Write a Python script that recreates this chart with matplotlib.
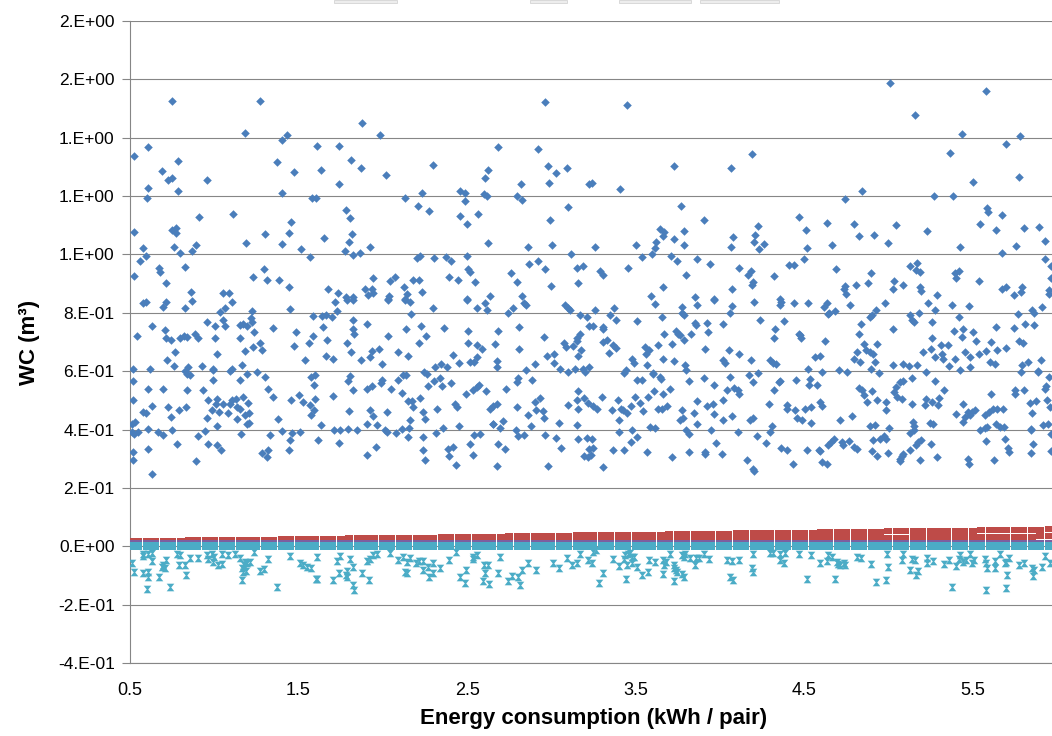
import matplotlib
matplotlib.use("Agg")
import matplotlib.pyplot as plt
from matplotlib.path import Path
from matplotlib.patches import Rectangle

plt.rcParams['font.family'] = ['Liberation Sans', 'DejaVu Sans']

# ---------------- data ----------------
# total water consumption per scenario, (energy kWh/pair, WC m3)
wc_total_a = [(0.524,1.337),(0.524,1.078),(0.524,0.926),(0.609,1.369),(0.609,1.229),(0.599,1.194),(0.579,1.022),(0.559,0.979),(0.595,0.994),(0.688,1.286),(0.727,1.255),(0.747,1.263),(0.747,1.526),(0.787,1.320),(0.787,1.219),(0.747,1.083),(0.773,1.091),(0.771,1.074),(0.761,1.025),(0.797,1.006),(0.674,0.952),(0.678,0.941),(0.714,0.901),(0.826,0.957),(0.955,1.255),(0.909,1.128),(0.890,1.034),(0.866,1.011),(0.862,0.872),(1.054,0.869),(1.090,0.869),(1.182,1.415),(1.272,1.526),(1.109,1.137),(1.188,1.040),(1.301,1.070),(1.228,0.923),(1.297,0.949),(1.315,0.911),(1.370,1.318),(1.384,0.913),(1.400,1.392),(1.430,1.411),(1.473,1.282),(1.400,1.211),(1.453,1.111),(1.446,1.072),(1.400,1.035),(1.515,1.019),(1.568,0.990),(1.578,1.193),(1.602,1.193),(1.612,1.371),(1.632,1.291),(1.653,1.055),(1.444,0.889),(1.677,0.883),(1.742,1.371),(1.740,1.240),(1.810,1.323),(1.871,1.296),(1.875,1.451),(1.780,1.154),(1.806,1.125),(1.816,1.071),(1.802,1.042),(1.776,1.011),(1.825,0.998),(1.865,1.006),(1.924,1.026),(1.736,0.869),(1.782,0.853),(1.821,0.854),(1.895,0.883),(1.944,0.920),(1.934,0.883),(1.944,0.869),(1.914,0.861),(1.984,1.411),(2.017,1.272),(2.043,0.909),(2.073,0.923),(2.039,0.857),(2.033,0.848),(2.126,0.889),(2.142,0.863),(2.132,0.848),(2.132,1.193),(2.235,1.211),(2.211,1.166),(2.274,1.149),(2.221,0.994),(2.205,0.987),(2.181,0.913),(2.215,0.911),(2.235,0.872),(2.298,1.306),(2.306,0.987),(2.373,0.992),(2.405,0.979),(2.395,0.923),(2.449,0.911),(2.458,1.217),(2.488,1.209),(2.488,1.183),(2.458,1.131),(2.498,1.103),(2.502,0.994),(2.508,0.951),(2.518,0.939),(2.544,0.905),(2.498,0.848),(2.567,1.137),(2.603,1.206),(2.617,1.202),(2.607,1.263),(2.627,1.291),(2.686,1.369),(2.623,1.038),(2.633,0.857),(2.795,1.200),(2.824,1.185),(2.820,1.243),(2.860,1.025),(2.868,0.969),(2.761,0.935),(2.795,0.905),(2.824,0.857),(2.923,1.360),(2.963,1.523),(2.979,1.303),(2.987,1.246),(3.028,1.278),(3.091,1.296),(2.989,1.117),(3.002,1.034),(3.097,1.162),(3.117,1.002),(2.919,0.977),(2.963,0.951),(2.998,0.892),(3.157,0.903),(3.151,0.953),(3.190,0.962),(3.226,1.243)]

wc_total_b = [(3.240,1.246),(3.448,1.512),(3.408,1.225),(3.725,1.302),(3.768,1.167),(3.260,1.026),(3.501,1.032),(3.537,0.992),(3.596,1.000),(3.616,1.023),(3.620,1.042),(3.645,1.086),(3.669,1.077),(3.661,1.063),(3.730,1.054),(3.711,0.994),(3.744,0.979),(3.784,1.080),(3.788,1.034),(3.798,0.929),(3.289,0.943),(3.305,0.928),(3.452,0.953),(3.665,0.889),(3.592,0.857),(3.863,0.985),(3.907,1.117),(3.942,0.969),(4.067,1.296),(4.189,1.343),(4.075,1.059),(4.065,1.026),(4.071,0.880),(4.112,0.955),(4.164,0.931),(4.183,0.943),(4.195,0.905),(4.193,0.894),(4.211,1.065),(4.205,1.043),(4.225,1.097),(4.229,1.019),(4.263,1.035),(3.853,0.855),(3.966,0.848),(4.320,0.926),(4.358,0.848),(4.409,0.963),(4.437,0.963),(4.472,1.130),(4.508,1.085),(4.496,0.985),(4.518,1.022),(4.637,1.109),(4.664,1.033),(4.686,0.949),(4.741,1.191),(4.842,1.219),(4.797,1.103),(4.824,1.062),(4.915,1.065),(4.896,0.937),(4.878,0.903),(4.741,0.891),(4.737,0.880),(4.749,0.863),(4.809,0.895),(4.999,1.040),(5.042,1.101),(5.010,1.586),(5.159,1.478),(5.272,1.199),(5.384,1.199),(5.363,1.349),(5.436,1.413),(5.499,1.250),(5.580,1.560),(5.699,1.377),(5.782,1.407),(5.772,1.264),(5.582,1.159),(5.588,1.146),(5.673,1.135),(5.545,1.106),(5.636,1.085),(5.226,1.079),(5.426,1.024),(5.675,1.006),(5.758,1.030),(5.802,1.089),(5.891,1.094),(5.926,1.046),(5.926,0.985),(5.966,0.962),(5.966,0.920),(5.125,0.960),(5.169,0.971),(5.165,0.946),(5.185,0.941),(5.026,0.882),(5.032,0.909),(5.084,0.895),(5.185,0.890),(5.194,0.874),(5.289,0.861),(5.392,0.937),(5.416,0.943),(5.400,0.920),(5.539,0.909),(5.673,0.883),(5.697,0.887),(5.744,0.861),(5.792,0.888),(5.788,0.873),(5.954,0.878),(5.950,0.863)]

wc_total_c = [(0.579,0.832),(0.595,0.838),(0.698,0.820),(0.714,0.838),(0.826,0.818),(0.866,0.841),(1.034,0.803),(1.064,0.815),(1.103,0.838),(1.222,0.806),(1.450,0.813),(1.717,0.838),(1.730,0.806),(1.786,0.843),(1.825,0.843),(2.033,0.843),(2.132,0.843),(2.162,0.838),(2.296,0.815),(2.498,0.843),(2.557,0.818),(2.607,0.832),(2.617,0.809),(2.745,0.798),(2.775,0.818),(2.840,0.832),(2.848,0.826),(3.081,0.826),(3.111,0.809),(3.170,0.792),(3.210,0.786),
(0.544,0.720),(0.633,0.755),(0.708,0.740),(0.714,0.715),(0.743,0.706),(0.797,0.712),(0.822,0.720),(0.836,0.718),(0.886,0.729),(0.905,0.715),(0.955,0.769),(1.004,0.754),(1.004,0.712),(1.054,0.775),(1.064,0.754),(1.153,0.758),(1.153,0.712),(1.173,0.763),(1.216,0.781),(1.222,0.769),(1.192,0.754),(1.236,0.735),(1.347,0.747),(1.483,0.735),(1.588,0.790),(1.637,0.790),(1.661,0.792),(1.701,0.784),(1.643,0.750),(1.825,0.775),(1.825,0.743),(1.829,0.729),(1.908,0.761),(2.029,0.720),(2.138,0.743),(2.167,0.795),(2.227,0.755),(2.256,0.721),(2.363,0.748),(2.508,0.737),(2.686,0.737),(2.666,0.692),(2.810,0.750),(2.959,0.718),(3.170,0.729),(3.151,0.712),(3.226,0.754),(3.097,0.818),
(0.767,0.666),(0.718,0.640),(0.763,0.617),(0.619,0.609),(0.826,0.601),(0.846,0.615),(0.836,0.592),(0.856,0.586),(0.925,0.618),(1.018,0.658),(0.995,0.609),(0.991,0.603),(1.093,0.601),(1.103,0.609),(1.167,0.620),(1.196,0.592),(1.182,0.670),(1.232,0.683),(1.252,0.598),(1.272,0.698),(1.285,0.672),(1.473,0.685),(1.538,0.638),(1.562,0.695),(1.588,0.721),(1.671,0.708),(1.663,0.651),(1.707,0.641),(1.790,0.698),(1.811,0.666),(1.871,0.638),(1.924,0.649),(1.934,0.668),(1.980,0.677),(1.995,0.626),(2.092,0.666),(2.148,0.652),(2.213,0.697),(2.310,0.615),(2.344,0.626),(2.379,0.615),(2.415,0.655),(2.454,0.628),(2.508,0.695),(2.557,0.691),(2.587,0.677),(2.518,0.632),(2.541,0.632),(2.557,0.649),(2.676,0.634),(2.676,0.615),(2.810,0.677),(2.850,0.603),(2.973,0.651),(3.016,0.660),(3.018,0.628),(3.052,0.609),(3.075,0.697),(3.087,0.683),(3.131,0.685),(3.151,0.704),(3.176,0.672),(3.157,0.651),(3.101,0.598),(3.141,0.609),(3.186,0.609),(3.200,0.598),(3.226,0.615),(2.905,0.624),(2.247,0.598)]

wc_total_d = [(0.516,0.609),(0.520,0.565),(0.516,0.500),(0.605,0.540),(0.694,0.540),(0.727,0.478),(0.743,0.443),(0.579,0.460),(0.593,0.458),(0.633,0.481),(0.793,0.466),(0.832,0.478),(0.840,0.535),(0.931,0.535),(0.955,0.438),(0.965,0.500),(0.985,0.466),(0.995,0.569),(1.010,0.489),(1.018,0.503),(1.014,0.411),(1.030,0.460),(1.054,0.489),(1.079,0.455),(1.093,0.489),(1.103,0.500),(1.129,0.506),(1.133,0.478),(1.137,0.435),(1.153,0.472),(1.153,0.569),(1.173,0.512),(1.202,0.491),(1.206,0.455),(1.182,0.449),(1.192,0.420),(1.206,0.423),(1.301,0.580),(1.321,0.540),(1.347,0.512),(1.380,0.435),(1.453,0.500),(1.505,0.520),(1.529,0.495),(1.568,0.483),(1.574,0.580),(1.598,0.586),(1.594,0.552),(1.574,0.451),(1.592,0.466),(1.596,0.506),(1.707,0.515),(1.631,0.415),(1.802,0.464),(1.796,0.565),(1.806,0.583),(1.825,0.537),(1.908,0.540),(1.934,0.548),(1.924,0.466),(1.940,0.446),(1.904,0.418),(1.968,0.414),(1.987,0.561),(1.997,0.569),(2.047,0.538),(2.027,0.460),(2.112,0.525),(2.088,0.569),(2.122,0.586),(2.138,0.586),(2.152,0.497),(2.162,0.432),(2.171,0.498),(2.181,0.478),(2.221,0.509),(2.237,0.460),(2.251,0.435),(2.270,0.548),(2.261,0.592),(2.320,0.470),(2.340,0.578),(2.349,0.548),(2.304,0.565),(2.403,0.560),(2.429,0.489),(2.438,0.478),(2.494,0.523),(2.533,0.535),(2.557,0.546),(2.573,0.552),(2.613,0.531),(2.636,0.472),(2.652,0.480),(2.676,0.489),(2.656,0.420),(2.715,0.429),(2.729,0.540),(2.798,0.478),(2.795,0.563),(2.804,0.575),(2.864,0.449),(2.884,0.569),(2.903,0.495),(2.933,0.509),(2.949,0.463),(2.959,0.438),(3.048,0.424),(3.097,0.485),(3.151,0.500),(3.160,0.531),(3.160,0.472),(3.194,0.509),(3.220,0.491),(3.151,0.417),(2.909,0.466),
(0.510,0.420),(0.530,0.426),(0.510,0.392),(0.524,0.386),(0.549,0.392),(0.605,0.401),(0.605,0.335),(0.668,0.392),(0.694,0.380),(0.751,0.397),(0.781,0.352),(0.520,0.323),(0.520,0.297),(0.629,0.247),(0.890,0.292),(0.902,0.378),(0.945,0.394),(0.965,0.352),(1.014,0.346),(1.038,0.329),(1.157,0.386),(1.281,0.318),(1.315,0.306),(1.321,0.331),(1.331,0.383),(1.400,0.395),(1.463,0.389),(1.450,0.363),(1.446,0.329),(1.509,0.392),(1.618,0.363),(1.711,0.397),(1.746,0.400),(1.742,0.354),(1.796,0.403),(1.845,0.400),(1.908,0.312),(1.960,0.340),(2.013,0.397),(2.023,0.392),(2.079,0.389),(2.112,0.403),(2.152,0.375),(2.158,0.407),(2.237,0.375),(2.241,0.329),(2.251,0.297),(2.316,0.388),(2.355,0.407),(2.389,0.335),(2.393,0.310),(2.415,0.340),(2.435,0.278),(2.454,0.411),(2.518,0.352),(2.533,0.312),(2.543,0.380),(2.577,0.386),(2.652,0.420),(2.696,0.406),(2.686,0.349),(2.725,0.332),(2.676,0.275),(2.791,0.400),(2.804,0.377),(2.840,0.383),(2.880,0.411),(2.963,0.380),(2.983,0.275),(3.026,0.371),(3.058,0.337),(3.157,0.369),(3.196,0.310),(3.220,0.306),(3.210,0.371),(3.226,0.335)]

wc_total_e = [(3.260,0.811),(3.246,0.754),(3.309,0.743),(3.305,0.752),(3.349,0.792),(3.372,0.815),(3.384,0.777),(3.616,0.830),(3.655,0.786),(3.774,0.820),(3.774,0.800),(3.784,0.792),(3.867,0.826),(3.966,0.843),(4.071,0.823),(4.061,0.798),(4.203,0.838),(4.239,0.777),(4.357,0.826),(4.363,0.838),(4.381,0.773),(4.441,0.832),(4.520,0.832),(4.615,0.820),(4.634,0.832),(4.644,0.795),(4.650,0.800),(4.680,0.806),(4.769,0.826),(4.836,0.763),(4.892,0.786),(4.901,0.792),(4.927,0.811),(4.981,0.832),(5.026,0.743),(5.129,0.792),(5.139,0.775),(5.149,0.769),(5.184,0.800),(5.232,0.832),(5.277,0.809),(5.257,0.769),(5.376,0.826),(5.416,0.784),(5.475,0.823),(5.386,0.737),(5.445,0.746),(5.501,0.735),(5.521,0.703),(5.639,0.752),(5.746,0.748),(5.766,0.795),(5.851,0.809),(5.861,0.800),(5.811,0.761),(5.861,0.758),(5.910,0.820),
(3.309,0.700),(3.333,0.708),(3.339,0.663),(3.365,0.689),(3.384,0.680),(3.428,0.594),(3.444,0.603),(3.477,0.643),(3.493,0.628),(3.507,0.771),(3.556,0.683),(3.562,0.658),(3.582,0.674),(3.570,0.620),(3.602,0.594),(3.635,0.689),(3.669,0.726),(3.665,0.643),(3.715,0.692),(3.730,0.635),(3.740,0.738),(3.754,0.729),(3.764,0.723),(3.784,0.708),(3.790,0.620),(3.800,0.603),(3.829,0.729),(3.853,0.766),(3.859,0.758),(3.912,0.677),(3.922,0.766),(3.932,0.735),(4.021,0.763),(4.051,0.672),(4.021,0.638),(4.031,0.628),(4.116,0.660),(4.183,0.638),(4.318,0.712),(4.328,0.746),(4.298,0.638),(4.314,0.628),(4.332,0.626),(4.476,0.723),(4.482,0.712),(4.472,0.726),(4.565,0.649),(4.595,0.652),(4.621,0.703),(4.524,0.609),(4.605,0.598),(4.704,0.603),(4.753,0.598),(4.793,0.643),(4.812,0.666),(4.832,0.632),(4.828,0.729),(4.852,0.692),(4.868,0.672),(4.892,0.666),(4.907,0.660),(4.921,0.632),(4.931,0.692),(4.896,0.609),(4.943,0.594),(5.026,0.620),(5.089,0.626),(5.119,0.617),(5.168,0.620),(5.204,0.666),(5.224,0.598),(5.257,0.715),(5.252,0.677),(5.277,0.647),(5.311,0.689),(5.317,0.660),(5.323,0.643),(5.356,0.689),(5.362,0.617),(5.396,0.643),(5.422,0.603),(5.435,0.718),(5.455,0.666),(5.485,0.647),(5.481,0.615),(5.540,0.658),(5.580,0.668),(5.610,0.699),(5.604,0.632),(5.633,0.624),(5.643,0.672),(5.699,0.681),(5.772,0.704),(5.797,0.697),(5.792,0.620),(5.788,0.598),(5.827,0.632),(5.904,0.640),(5.885,0.598),(5.950,0.580)]

wc_total_f = [(3.250,0.480),(3.270,0.472),(3.299,0.512),(3.359,0.466),(3.398,0.500),(3.412,0.472),(3.424,0.466),(3.448,0.455),(3.471,0.480),(3.404,0.434),(3.404,0.392),(3.477,0.400),(3.497,0.512),(3.507,0.571),(3.537,0.569),(3.527,0.491),(3.546,0.464),(3.576,0.512),(3.606,0.533),(3.602,0.590),(3.586,0.409),(3.616,0.406),(3.635,0.472),(3.655,0.472),(3.665,0.521),(3.689,0.480),(3.701,0.540),(3.645,0.580),(3.649,0.574),(3.764,0.432),(3.780,0.438),(3.774,0.466),(3.800,0.397),(3.814,0.386),(3.814,0.567),(3.863,0.498),(3.847,0.455),(3.867,0.418),(3.903,0.575),(3.922,0.480),(3.958,0.487),(3.962,0.452),(3.966,0.552),(3.946,0.400),(4.017,0.500),(4.017,0.434),(4.061,0.580),(4.071,0.447),(4.041,0.537),(4.081,0.544),(4.110,0.535),(4.116,0.523),(4.175,0.586),(4.199,0.563),(4.225,0.594),(4.179,0.432),(4.195,0.438),(4.294,0.487),(4.308,0.411),(4.322,0.535),(4.348,0.563),(4.354,0.567),(4.397,0.483),(4.397,0.472),(4.443,0.466),(4.450,0.571),(4.456,0.441),(4.486,0.432),(4.536,0.573),(4.526,0.552),(4.506,0.469),(4.539,0.478),(4.539,0.424),(4.579,0.552),(4.591,0.495),(4.605,0.480),(4.710,0.434),(4.783,0.446),(4.828,0.544),(4.842,0.537),(4.856,0.518),(4.872,0.495),(4.901,0.533),(4.931,0.500),(4.888,0.411),(4.921,0.415),(4.986,0.495),(4.986,0.466),(5.034,0.529),(5.046,0.546),(5.050,0.512),(5.066,0.563),(5.085,0.567),(5.079,0.506),(5.139,0.489),(5.139,0.575),(5.145,0.426),(5.153,0.411),(5.218,0.483),(5.224,0.506),(5.257,0.493),(5.277,0.567),(5.291,0.483),(5.297,0.508),(5.331,0.537),(5.263,0.418),(5.248,0.423),(5.402,0.452),(5.441,0.487),(5.455,0.443),(5.445,0.426),(5.471,0.460),(5.495,0.460),(5.515,0.466),(5.485,0.449),(5.574,0.449),(5.594,0.460),(5.619,0.469),(5.643,0.472),(5.679,0.469),(5.608,0.521),(5.544,0.400),(5.570,0.406),(5.584,0.409),(5.639,0.420),(5.663,0.409),(5.683,0.409),(5.748,0.521),(5.752,0.535),(5.807,0.537),(5.837,0.491),(5.877,0.498),(5.851,0.455),(5.847,0.403),(5.887,0.600),(5.930,0.540),(5.936,0.548),(5.940,0.500),(5.956,0.478),(5.916,0.415),(5.944,0.418),
(3.240,0.369),(3.246,0.337),(3.234,0.312),(3.309,0.270),(3.365,0.331),(3.428,0.329),(3.471,0.358),(3.507,0.375),(3.566,0.323),(3.715,0.306),(3.819,0.323),(3.912,0.323),(3.912,0.315),(3.978,0.354),(4.011,0.315),(4.110,0.392),(4.160,0.295),(4.195,0.266),(4.203,0.258),(4.219,0.377),(4.272,0.354),(4.298,0.392),(4.361,0.338),(4.397,0.331),(4.433,0.281),(4.516,0.329),(4.585,0.331),(4.595,0.327),(4.605,0.289),(4.638,0.283),(4.644,0.346),(4.658,0.358),(4.674,0.366),(4.723,0.358),(4.733,0.346),(4.763,0.361),(4.793,0.340),(4.816,0.335),(4.901,0.327),(4.935,0.308),(4.911,0.363),(4.951,0.366),(4.971,0.377),(4.986,0.369),(5.000,0.318),(5.006,0.406),(5.070,0.300),(5.079,0.308),(5.066,0.292),(5.089,0.315),(5.125,0.331),(5.125,0.388),(5.149,0.397),(5.164,0.346),(5.178,0.358),(5.192,0.363),(5.188,0.297),(5.254,0.350),(5.287,0.306),(5.471,0.300),(5.475,0.283),(5.580,0.361),(5.629,0.297),(5.693,0.369),(5.707,0.338),(5.718,0.323),(5.845,0.320),(5.857,0.350),(5.847,0.397),(5.966,0.386),(5.966,0.327)]

# outlying negative component values
wc_neg_pts = [(0.510,-0.059),(0.524,-0.088),(0.579,-0.025),(0.575,-0.034),(0.609,-0.025),(0.633,-0.051),(0.629,-0.023),(0.579,-0.093),(0.609,-0.088),(0.609,-0.105),(0.599,-0.145),(0.674,-0.105),(0.688,-0.071),(0.698,-0.063),(0.714,-0.046),(0.708,-0.076),(0.737,-0.139),(0.777,-0.025),(0.797,-0.031),(0.793,-0.063),(0.826,-0.063),(0.832,-0.099),(0.856,-0.039),(0.905,-0.039),(0.959,-0.031),(0.965,-0.042),(0.985,-0.028),(0.998,-0.036),(0.995,-0.054),(1.024,-0.065),(1.044,-0.062),(1.044,-0.025),(1.084,-0.031),(1.123,-0.028),(1.153,-0.039),(1.163,-0.076),(1.178,-0.065),(1.182,-0.054),(1.196,-0.059),(1.212,-0.054),(1.173,-0.088),(1.188,-0.084),(1.167,-0.116),(1.236,-0.019),(1.271,-0.084),(1.297,-0.079),(1.321,-0.044),(1.370,-0.139),(1.450,-0.033),(1.509,-0.057),(1.525,-0.065),(1.548,-0.071),(1.572,-0.076),(1.604,-0.111),(1.612,-0.111),(1.608,-0.036),(1.703,-0.116),(1.730,-0.050),(1.746,-0.034),(1.742,-0.091),(1.782,-0.099),(1.790,-0.086),(1.786,-0.107),(1.806,-0.042),(1.821,-0.071),(1.821,-0.134),(1.829,-0.151),(1.875,-0.091),(1.920,-0.114),(1.908,-0.050),(1.924,-0.042),(1.940,-0.031),(1.964,-0.025),(2.043,-0.023),(2.092,-0.048),(2.132,-0.088),(2.142,-0.093),(2.118,-0.036),(2.142,-0.054),(2.162,-0.039),(2.197,-0.059),(2.217,-0.051),(2.241,-0.051),(2.237,-0.082),(2.270,-0.071),(2.276,-0.105),(2.300,-0.059),(2.300,-0.091),(2.340,-0.073),(2.395,-0.048),(2.435,-0.019),(2.458,-0.107),(2.488,-0.126),(2.494,-0.080),(2.537,-0.036),(2.557,-0.031),(2.537,-0.042),(2.601,-0.065),(2.607,-0.091),(2.627,-0.065),(2.593,-0.120),(2.632,-0.128),(2.686,-0.091),(2.696,-0.036),(2.741,-0.120),(2.765,-0.103),(2.805,-0.107),(2.824,-0.082),(2.814,-0.134),(2.864,-0.057),(2.909,-0.080),(3.012,-0.057),(3.048,-0.074),(3.091,-0.039),(3.121,-0.063),(3.151,-0.057),(3.171,-0.025),(3.220,-0.048),
(3.250,-0.019),(3.266,-0.014),(3.240,-0.059),(3.305,-0.091),(3.285,-0.126),(3.365,-0.042),(3.404,-0.069),(3.428,-0.042),(3.438,-0.031),(3.457,-0.025),(3.467,-0.022),(3.477,-0.036),(3.493,-0.036),(3.448,-0.065),(3.477,-0.059),(3.507,-0.071),(3.444,-0.111),(3.537,-0.099),(3.576,-0.088),(3.582,-0.048),(3.616,-0.054),(3.661,-0.048),(3.669,-0.063),(3.681,-0.054),(3.665,-0.096),(3.701,-0.028),(3.725,-0.065),(3.729,-0.076),(3.740,-0.082),(3.748,-0.088),(3.774,-0.096),(3.784,-0.105),(3.725,-0.119),(3.774,-0.031),(3.784,-0.036),(3.794,-0.025),(3.823,-0.039),(3.859,-0.039),(3.853,-0.063),(3.873,-0.039),(3.907,-0.025),(3.938,-0.044),(4.041,-0.046),(4.071,-0.051),(4.061,-0.105),(4.077,-0.114),(4.116,-0.046),(4.189,-0.076),(4.199,-0.088),(4.195,-0.025),(4.298,-0.022),(4.314,-0.023),(4.354,-0.046),(4.383,-0.059),(4.357,-0.025),(4.387,-0.022),(4.472,-0.025),(4.516,-0.111),(4.542,-0.031),(4.591,-0.059),(4.634,-0.051),(4.644,-0.031),(4.664,-0.036),(4.684,-0.111),(4.694,-0.054),(4.698,-0.062),(4.714,-0.065),(4.737,-0.059),(4.743,-0.065),(4.812,-0.036),(4.836,-0.039),(4.897,-0.062),(4.927,-0.122),(4.986,-0.116),(4.996,-0.071),(4.991,-0.025),(5.079,-0.048),(5.089,-0.025),(5.125,-0.082),(5.139,-0.042),(5.159,-0.048),(5.164,-0.099),(5.178,-0.084),(5.228,-0.039),(5.228,-0.059),(5.267,-0.051),(5.327,-0.062),(5.362,-0.048),(5.400,-0.069),(5.376,-0.139),(5.416,-0.042),(5.422,-0.031),(5.442,-0.054),(5.461,-0.046),(5.495,-0.059),(5.485,-0.025),(5.505,-0.048),(5.574,-0.042),(5.580,-0.059),(5.584,-0.076),(5.580,-0.151),(5.633,-0.051),(5.633,-0.076),(5.663,-0.025),(5.693,-0.059),(5.699,-0.054),(5.703,-0.099),(5.699,-0.142),(5.718,-0.039),(5.772,-0.065),(5.802,-0.059),(5.851,-0.076),(5.861,-0.080),(5.857,-0.103),(5.910,-0.071),(5.926,-0.034),(5.956,-0.059)]

# closely packed component values sampled along the energy axis
band_x = [0.50,0.55,0.60,0.65,0.70,0.75,0.80,0.85,0.90,0.95,1.00,1.05,1.10,1.15,1.20,1.25,1.30,1.35,1.40,1.45,1.50,1.55,1.60,1.65,1.70,1.75,1.80,1.85,1.90,1.95,2.00,2.05,2.10,2.15,2.20,2.25,2.30,2.35,2.40,2.45,2.50,2.55,2.60,2.65,2.70,2.75,2.80,2.85,2.90,2.95,3.00,3.05,3.10,3.15,3.20,3.25,3.30,3.35,3.40,3.45,3.50,3.55,3.60,3.65,3.70,3.75,3.80,3.85,3.90,3.95,4.00,4.05,4.10,4.15,4.20,4.25,4.30,4.35,4.40,4.45,4.50,4.55,4.60,4.65,4.70,4.75,4.80,4.85,4.90,4.95,5.00,5.05,5.10,5.15,5.20,5.25,5.30,5.35,5.40,5.45,5.50,5.55,5.60,5.65,5.70,5.75,5.80,5.85,5.90,5.95,6.00]
red_hi = [0.017,0.017,0.018,0.018,0.018,0.019,0.019,0.020,0.020,0.020,0.021,0.021,0.021,0.022,0.022,0.023,0.023,0.023,0.024,0.024,0.024,0.025,0.025,0.026,0.026,0.026,0.027,0.027,0.027,0.028,0.028,0.029,0.029,0.029,0.030,0.030,0.030,0.031,0.031,0.032,0.032,0.032,0.033,0.033,0.033,0.034,0.034,0.035,0.035,0.035,0.036,0.036,0.036,0.037,0.037,0.037,0.038,0.038,0.039,0.039,0.039,0.040,0.040,0.040,0.041,0.041,0.042,0.042,0.042,0.043,0.043,0.043,0.044,0.044,0.045,0.045,0.045,0.046,0.046,0.046,0.047,0.047,0.048,0.048,0.048,0.049,0.049,0.049,0.050,0.050,0.051,0.051,0.051,0.052,0.052,0.052,0.053,0.053,0.054,0.054,0.054,0.055,0.055,0.055,0.056,0.056,0.056,0.057,0.057,0.058,0.058]
red_lo = [0.013,0.013,0.013,0.014,0.014,0.014,0.014,0.014,0.015,0.015,0.015,0.015,0.015,0.015,0.016,0.016,0.016,0.016,0.016,0.017,0.017,0.017,0.017,0.017,0.018,0.018,0.018,0.018,0.018,0.019,0.019,0.019,0.019,0.019,0.019,0.020,0.020,0.020,0.020,0.020,0.021,0.021,0.021,0.021,0.021,0.022,0.022,0.022,0.022,0.022,0.023,0.023,0.023,0.023,0.023,0.023,0.024,0.024,0.024,0.024,0.024,0.025,0.025,0.025,0.025,0.025,0.026,0.026,0.026,0.026,0.026,0.026,0.027,0.027,0.027,0.027,0.027,0.028,0.028,0.028,0.028,0.028,0.029,0.029,0.029,0.029,0.029,0.030,0.030,0.030,0.030,0.030,0.030,0.031,0.031,0.031,0.031,0.031,0.032,0.032,0.032,0.032,0.032,0.033,0.033,0.033,0.033,0.033,0.034,0.034,0.034]
purple_y = [0.010,0.010,0.010,0.010,0.010,0.010,0.010,0.010,0.010,0.010,0.010,0.010,0.010,0.010,0.010,0.010,0.010,0.010,0.010,0.010,0.010,0.010,0.010,0.010,0.010,0.010,0.010,0.010,0.010,0.010,0.010,0.010,0.010,0.010,0.010,0.010,0.010,0.010,0.010,0.010,0.010,0.010,0.010,0.010,0.010,0.010,0.010,0.010,0.010,0.010,0.010,0.010,0.010,0.010,0.010,0.010,0.010,0.010,0.010,0.010,0.010,0.010,0.010,0.010,0.010,0.010,0.010,0.010,0.010,0.010,0.010,0.010,0.010,0.010,0.010,0.010,0.010,0.010,0.010,0.010,0.010,0.010,0.010,0.010,0.010,0.010,0.010,0.010,0.010,0.010,0.010,0.010,0.010,0.010,0.010,0.010,0.010,0.010,0.010,0.010,0.010,0.010,0.010,0.010,0.010,0.010,0.010,0.010,0.010,0.010,0.010]
cyan_hi = [0.003,0.003,0.003,0.003,0.003,0.003,0.003,0.003,0.003,0.003,0.003,0.003,0.003,0.003,0.003,0.003,0.003,0.003,0.003,0.003,0.003,0.003,0.003,0.003,0.003,0.003,0.003,0.003,0.003,0.003,0.003,0.003,0.003,0.003,0.003,0.003,0.003,0.003,0.003,0.003,0.003,0.003,0.003,0.003,0.003,0.003,0.003,0.003,0.003,0.003,0.003,0.003,0.003,0.003,0.003,0.003,0.003,0.003,0.003,0.003,0.003,0.003,0.003,0.003,0.003,0.003,0.003,0.003,0.003,0.003,0.003,0.003,0.003,0.003,0.003,0.003,0.003,0.003,0.003,0.003,0.003,0.003,0.003,0.003,0.003,0.003,0.003,0.003,0.003,0.003,0.003,0.003,0.003,0.003,0.003,0.003,0.003,0.003,0.003,0.003,0.003,0.003,0.003,0.003,0.003,0.003,0.003,0.003,0.003,0.003,0.003]
cyan_lo = [-0.004,-0.004,-0.004,-0.004,-0.004,-0.004,-0.004,-0.004,-0.004,-0.004,-0.004,-0.004,-0.004,-0.004,-0.004,-0.004,-0.004,-0.004,-0.004,-0.004,-0.004,-0.004,-0.004,-0.004,-0.004,-0.004,-0.004,-0.004,-0.004,-0.004,-0.004,-0.004,-0.004,-0.004,-0.004,-0.004,-0.004,-0.004,-0.004,-0.004,-0.004,-0.004,-0.004,-0.004,-0.004,-0.004,-0.004,-0.004,-0.004,-0.004,-0.004,-0.004,-0.004,-0.004,-0.004,-0.004,-0.004,-0.004,-0.004,-0.004,-0.004,-0.004,-0.004,-0.004,-0.004,-0.004,-0.004,-0.004,-0.004,-0.004,-0.004,-0.004,-0.004,-0.004,-0.004,-0.004,-0.004,-0.004,-0.004,-0.004,-0.004,-0.004,-0.004,-0.004,-0.004,-0.004,-0.004,-0.004,-0.004,-0.004,-0.004,-0.004,-0.004,-0.004,-0.004,-0.004,-0.004,-0.004,-0.004,-0.004,-0.004,-0.004,-0.004,-0.004,-0.004,-0.004,-0.004,-0.004,-0.004,-0.004,-0.004]

y_ticks = [-0.4, -0.2, 0.0, 0.2, 0.4, 0.6, 0.8, 1.0, 1.2, 1.4, 1.6, 1.8]
y_tick_labels = ["-4.E-01", "-2.E-01", "0.E+00", "2.E-01", "4.E-01", "6.E-01",
                 "8.E-01", "1.E+00", "1.E+00", "1.E+00", "2.E+00", "2.E+00"]
x_ticks = [0.5, 1.5, 2.5, 3.5, 4.5, 5.5]
x_tick_labels = ["0.5", "1.5", "2.5", "3.5", "4.5", "5.5"]

# ---------------- styling ----------------
BLUE = '#4A7EBB'
RED = '#BE4B48'
PURPLE = '#7D5FA0'
CYAN = '#4BACC6'
AXIS_GREY = '#868686'

hourglass = Path([(-1, 1), (1, 1), (0.2, 0), (1, -1), (-1, -1), (-0.2, 0), (-1, 1)],
                 [Path.MOVETO, Path.LINETO, Path.LINETO, Path.LINETO,
                  Path.LINETO, Path.LINETO, Path.CLOSEPOLY])
# flat block used where markers overlap into a continuous strip
strip = Path([(-1, -0.7), (1, -0.7), (1, 0.7), (-1, 0.7), (-1, -0.7)],
             [Path.MOVETO, Path.LINETO, Path.LINETO, Path.LINETO, Path.CLOSEPOLY])

W, H = 1052, 736
fig = plt.figure(figsize=(W / 100, H / 100), dpi=100)
ax = fig.add_axes([130 / W, 1 - 663 / H, 927 / W, 642 / H])

blue_pts = wc_total_a + wc_total_b + wc_total_c + wc_total_d + wc_total_e + wc_total_f
ax.scatter([p[0] for p in blue_pts], [p[1] for p in blue_pts], s=19, marker='D',
           color=BLUE, linewidths=0, zorder=3)

ax.scatter(band_x, red_lo, s=40, marker=strip, color=RED, linewidths=0, zorder=4)
ax.scatter(band_x, red_hi, s=40, marker=strip, color=RED, linewidths=0, zorder=4)
ax.scatter(band_x, purple_y, s=40, marker=strip, color=PURPLE, linewidths=0, zorder=5)
ax.scatter(band_x, cyan_hi, s=40, marker=strip, color=CYAN, linewidths=0, zorder=6)
ax.scatter(band_x, cyan_lo, s=40, marker=strip, color=CYAN, linewidths=0, zorder=6)
ax.scatter([p[0] for p in wc_neg_pts], [p[1] for p in wc_neg_pts], s=30, marker=hourglass,
           color=CYAN, linewidths=0, zorder=6)

ax.set_xlim(0.5, 6.0)
ax.set_ylim(-0.4, 1.8)
ax.set_xticks(x_ticks)
ax.set_xticklabels(x_tick_labels)
ax.set_yticks(y_ticks)
ax.set_yticklabels(y_tick_labels)

ax.grid(axis='y', color=AXIS_GREY, linewidth=0.8, zorder=0)
ax.set_axisbelow(True)
for side in ('top', 'right'):
    ax.spines[side].set_visible(False)
for side in ('left', 'bottom'):
    ax.spines[side].set_color(AXIS_GREY)
    ax.spines[side].set_linewidth(0.8)

ax.tick_params(axis='y', direction='out', length=6, width=0.8, color=AXIS_GREY,
               labelsize=12.5, pad=5)
ax.tick_params(axis='x', length=0, labelsize=13, pad=14)

ax.set_xlabel('Energy consumption (kWh / pair)', fontsize=16, fontweight='bold', labelpad=6)
ax.set_ylabel('WC (m³)', fontsize=16, fontweight='bold', labelpad=13)

# faint remains of the legend at the top edge
for x0, x1 in [(334, 397), (530, 567), (619, 691), (700, 779)]:
    fig.add_artist(Rectangle((x0 / W, 1 - 3 / H), (x1 - x0) / W, 3 / H,
                             transform=fig.transFigure, facecolor='#ededed',
                             edgecolor='#d4d4d4', linewidth=0.6))

fig.savefig('out.png', dpi=100)
